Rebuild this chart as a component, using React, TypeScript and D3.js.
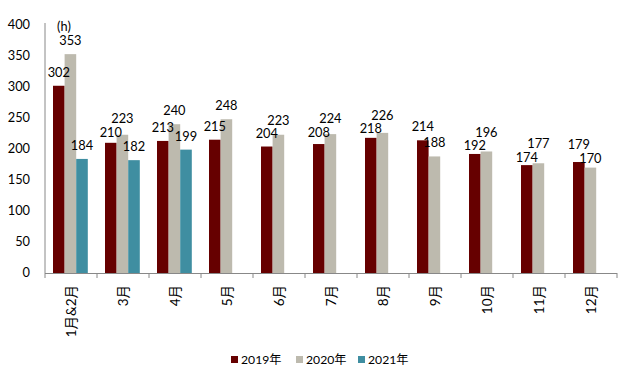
import React from "react";
import * as d3 from "d3";

const categories = ["1月&2月", "3月", "4月", "5月", "6月", "7月", "8月", "9月", "10月", "11月", "12月"];
const seriesNames = ["2019年", "2020年", "2021年"];
const values2019 = [302, 210, 213, 215, 204, 208, 218, 214, 192, 174, 179];
const values2020 = [353, 223, 240, 248, 223, 224, 226, 188, 196, 177, 170];
const values2021: (number | null)[] = [184, 182, 199, null, null, null, null, null, null, null, null];
const yTicks = [0, 50, 100, 150, 200, 250, 300, 350, 400];

const colors = ["#660000", "#BDBAAE", "#3F8EA1"];
const FONT = "Lato, 'Noto Sans CJK SC', sans-serif";

export default function App() {
  const W = 633, H = 383;
  const left = 45, right = 617, top = 25, bottom = 273;
  const x = d3.scaleBand<string>().domain(categories).range([left, right]).paddingInner(0).paddingOuter(0);
  const y = d3.scaleLinear().domain([0, 400]).range([bottom, top]);
  const bw = 11.6;
  const groupOffset = 8;
  const series = [values2019, values2020, values2021];
  const NUM = 12.8;
  const SEP = 13.5;

  const labels: { x: number; b: number; v: number }[][] = categories.map((c, ci) => {
    const arr: { x: number; b: number; v: number }[] = [];
    series.forEach((s, si) => {
      const v = s[ci];
      if (v == null) return;
      const bx = (x(c) as number) + groupOffset + si * bw + bw / 2;
      arr.push({ x: bx, b: y(v) - 9, v });
    });
    for (let i = 1; i < arr.length; i++) {
      const p = arr[i - 1], q = arr[i];
      const d = Math.abs(p.b - q.b);
      if (d < SEP) {
        const mid = (p.b + q.b) / 2;
        const pLower = p.b >= q.b;
        if (pLower) { p.b = mid + SEP / 2; q.b = mid - SEP / 2; } else { p.b = mid - SEP / 2; q.b = mid + SEP / 2; }
      }
    }
    return arr;
  });

  const legendItems = [
    { x: 231, name: seriesNames[0], c: colors[0] },
    { x: 296, name: seriesNames[1], c: colors[1] },
    { x: 358, name: seriesNames[2], c: colors[2] },
  ];

  return (
    <svg width={W} height={H} style={{ position: "absolute", left: 0, top: 0, background: "#fff" }} fontFamily={FONT}>
      {series.map((s, si) =>
        categories.map((c, ci) => {
          const v = s[ci];
          if (v == null) return null;
          const bx = (x(c) as number) + groupOffset + si * bw;
          return <rect key={`${si}-${ci}`} x={bx} y={y(v)} width={bw} height={y(0) - y(v)} fill={colors[si]} />;
        })
      )}
      <line x1={left} x2={left} y1={top - 2} y2={bottom + 5} stroke="#888" strokeWidth={1} />
      <line x1={left} x2={right} y1={bottom + 0.5} y2={bottom + 0.5} stroke="#888" strokeWidth={1} />
      {categories.map((c, i) => (
        <line key={"t" + i} x1={(x(c) as number) + 52} x2={(x(c) as number) + 52} y1={bottom} y2={bottom + 5} stroke="#888" />
      ))}
      {yTicks.map((t) => (
        <text key={"y" + t} x={30} y={y(t)} dy="0.35em" textAnchor="end" fontSize={NUM} fill="#000">{t}</text>
      ))}
      {categories.map((c) => {
        const cx = (x(c) as number) + x.bandwidth() / 2;
        return (
          <text key={"x" + c} transform={`translate(${cx},${bottom + 12}) rotate(-90)`} textAnchor="end" dy="0.35em" fontSize={13.5} fill="#000">{c}</text>
        );
      })}
      <text x={64} y={31} textAnchor="middle" fontSize={NUM} fill="#000">(h)</text>
      {labels.flat().map((l, i) => (
        <text key={"l" + i} x={l.x} y={l.b} textAnchor="middle" fontSize={NUM} fill="#000">{l.v}</text>
      ))}
      {legendItems.map((it) => (
        <g key={it.name}>
          <rect x={it.x} y={356} width={7} height={7} fill={it.c} />
          <text x={it.x + 10} y={364} fontSize={12.2} fill="#000">{it.name}</text>
        </g>
      ))}
    </svg>
  );
}
